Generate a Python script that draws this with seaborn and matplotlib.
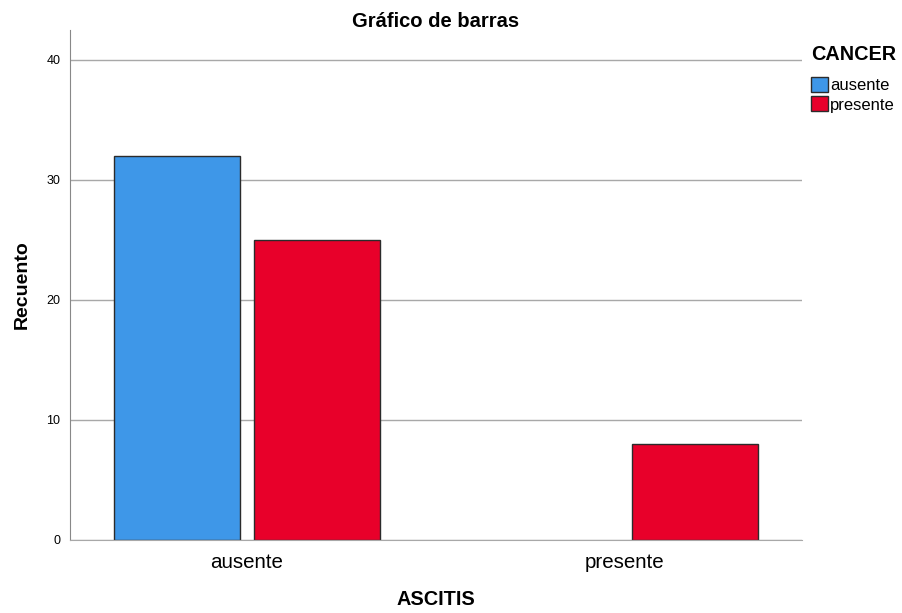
import pandas as pd
import matplotlib.pyplot as plt
import seaborn as sns

# Counts (ASCITIS x CANCER)
ascitis = ["ausente", "ausente", "presente"]
cancer = ["ausente", "presente", "presente"]
recuento = [32, 25, 8]

ascitis_order = ["ausente", "presente"]
cancer_order = ["ausente", "presente"]
colors = ["#3E97E8", "#E8002A"]


def main() -> None:
    df = pd.DataFrame({"ASCITIS": ascitis, "CANCER": cancer, "Recuento": recuento})

    sns.set_style("white")
    plt.rcParams["font.family"] = ["Liberation Sans", "DejaVu Sans"]
    plt.rcParams["text.color"] = "black"
    plt.rcParams["axes.labelcolor"] = "black"
    plt.rcParams["xtick.color"] = "black"
    plt.rcParams["ytick.color"] = "black"

    fig = plt.figure(figsize=(9.02, 6.13), dpi=100)
    ax = fig.add_axes([70 / 902, 73 / 613, 732 / 902, 510 / 613])

    sns.barplot(
        data=df, x="ASCITIS", y="Recuento", hue="CANCER",
        order=ascitis_order, hue_order=cancer_order, palette=colors,
        width=0.74, gap=0.1, edgecolor="#2b2b2b", linewidth=1.0,
        saturation=1, ax=ax,
    )

    ax.set_xlim(-0.468, 1.469)
    ax.set_ylim(0, 42.5)
    ax.set_yticks([0, 10, 20, 30, 40])
    ax.yaxis.grid(True, color="#a8a8a8", linewidth=1.0)
    ax.set_axisbelow(True)
    ax.tick_params(axis="both", length=0)
    ax.tick_params(axis="y", labelsize=9, pad=7)
    ax.tick_params(axis="x", labelsize=14.8, pad=9)

    for side in ["top", "right"]:
        ax.spines[side].set_visible(False)
    ax.spines["left"].set_color("#888888")
    ax.spines["bottom"].set_color("#a8a8a8")

    ax.set_title("Gráfico de barras", fontsize=14.5, fontweight="bold", pad=2)
    ax.set_xlabel("ASCITIS", fontsize=14.3, fontweight="bold", labelpad=13)
    ax.set_ylabel("Recuento", fontsize=14, fontweight="bold", labelpad=11)

    # Legend title drawn separately so the gap to the entries matches SPSS
    fig.text(811 / 902, 1 - 55 / 613, "CANCER", fontsize=14.3, fontweight="bold",
             ha="left", va="center")
    leg = ax.legend(
        loc="upper left", bbox_to_anchor=(1.012, 0.908),
        frameon=False, fontsize=12,
        handlelength=1.05, handleheight=1.0, handletextpad=0.1, labelspacing=0.2,
        borderaxespad=0, borderpad=0,
    )
    for h in leg.legend_handles:
        h.set_edgecolor("#2b2b2b")

    fig.savefig("out.png", dpi=100)


if __name__ == "__main__":
    main()
